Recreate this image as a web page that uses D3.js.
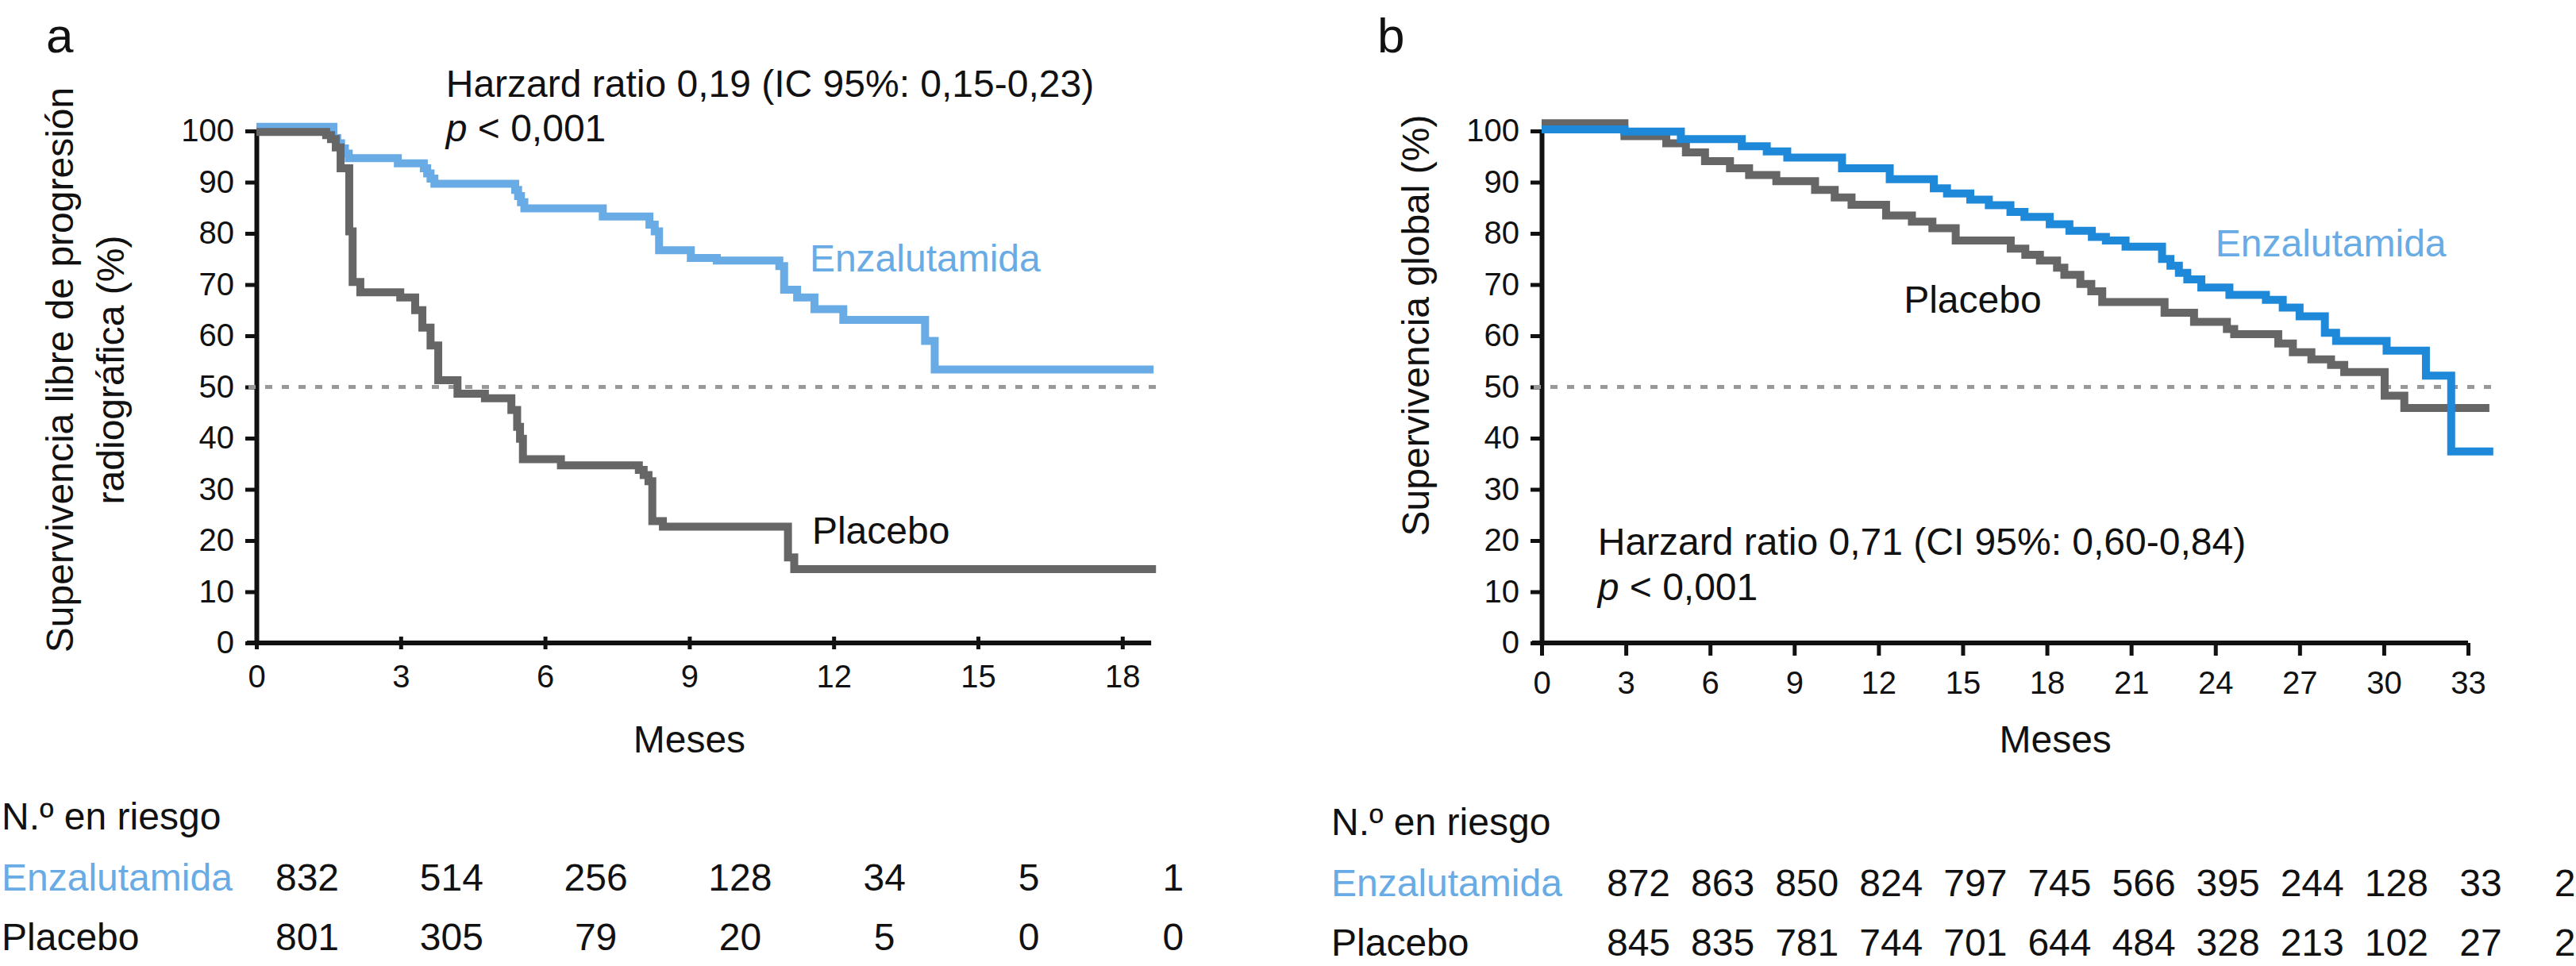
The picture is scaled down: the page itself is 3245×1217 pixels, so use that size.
<!DOCTYPE html>
<html>
<head>
<meta charset="utf-8">
<script src="https://cdn.jsdelivr.net/npm/d3@7"></script>
<style>
  body { margin: 0; background: #fff; }
  text { font-family: "Liberation Sans", Arial, Helvetica, sans-serif; fill: #111; }
</style>
</head>
<body>
<svg id="chart" width="3245" height="1217"></svg>
<script>
// ---- data ----
var pctTicks = [0, 10, 20, 30, 40, 50, 60, 70, 80, 90, 100];
var monthTicksA = [0, 3, 6, 9, 12, 15, 18];
var monthTicksB = [0, 3, 6, 9, 12, 15, 18, 21, 24, 27, 30, 33];

// [month, % after that month] (step after)
var enzA = [[0,100.8],[1.6,98.6],[1.68,97.6],[1.76,96.6],[1.84,95.6],[1.92,94.7],[2.94,93.7],
  [3.48,92.7],[3.55,91.7],[3.62,90.7],[3.7,89.7],[5.38,88.5],[5.44,87.3],[5.5,86.1],[5.57,84.9],
  [7.2,83.3],[8.17,81.7],[8.28,80.4],[8.37,76.7],[9.03,75.2],[9.57,74.7],[10.87,73.6],[10.97,69],
  [11.24,67.5],[11.6,65.2],[12.2,63.1],[13.9,59],[14.1,53.4],[18.65,53.4]];
var plaA = [[0,99.8],[1.45,99.2],[1.55,98.4],[1.65,96.8],[1.75,92.7],[1.93,80.4],[2.0,70.5],[2.16,68.5],
  [2.99,67.5],[3.3,65],[3.45,61.6],[3.62,58.1],[3.78,51.3],[4.18,48.7],[4.75,47.8],[5.3,45.5],
  [5.42,42.2],[5.48,39.9],[5.54,35.9],[6.33,34.7],[7.95,33.8],[8.05,32.8],[8.15,31.6],[8.23,23.8],
  [8.45,22.7],[11.05,16.7],[11.18,14.4],[18.7,14.4]];

var enzB = [[0,100.3],[2.95,99.9],[4.96,98.4],[7.13,97],[8.02,96],[8.75,94.8],[10.7,92.7],[12.4,90.6],
  [13.97,88.8],[14.44,87.8],[15.27,86.6],[15.93,85.5],[16.7,84.2],[17.2,83.2],[18.1,81.8],[18.8,80.5],
  [19.6,79.3],[20.1,78.6],[20.8,77.4],[22.1,75],[22.4,73.7],[22.7,72.3],[23.0,71],[23.5,69.4],
  [24.5,68],[25.8,67],[26.4,65.5],[27.0,63.8],[27.9,60.6],[28.3,59],[30.1,57.1],[31.5,52.2],
  [32.4,37.4],[33.9,37.4]];
var plaB = [[0,101.5],[2.95,99],[4.44,97.6],[5.14,95.8],[5.82,94.1],[6.71,92.7],[7.39,91.4],[8.36,90.2],
  [9.74,88.5],[10.44,87],[11.04,85.6],[12.27,83.5],[13.19,82.3],[13.92,81],[14.75,78.6],[16.71,77],
  [17.23,75.8],[17.75,74.7],[18.36,73.3],[18.62,71.9],[19.19,70.1],[19.58,68.7],[19.97,66.6],
  [22.19,64.5],[23.24,62.7],[24.41,61.3],[24.67,60.3],[26.24,58.5],[26.76,56.8],[27.42,55.4],
  [28.12,54.3],[28.59,52.9],[30.03,48.3],[30.73,45.9],[33.76,45.9]];

var riskEnzA = [832, 514, 256, 128, 34, 5, 1];
var riskPlaA = [801, 305, 79, 20, 5, 0, 0];
var riskEnzB = [872, 863, 850, 824, 797, 745, 566, 395, 244, 128, 33, 2];
var riskPlaB = [845, 835, 781, 744, 701, 644, 484, 328, 213, 102, 27, 2];

var lightBlue = "#69abe4", darkBlue = "#1f89d9", grey = "#666666", dashGrey = "#999999";

var svg = d3.select("#chart");
svg.append("rect").attr("width", 3245).attr("height", 1217).attr("fill", "#fff");

// scales
var y = d3.scaleLinear().domain([0, 100]).range([810, 165]);
var xA = d3.scaleLinear().domain([0, 18.6]).range([323, 323 + 18.6 * 60.6]);
var xB = d3.scaleLinear().domain([0, 33]).range([1942, 3109]);

function styleAxis(g, fontSize) {
  g.select(".domain").attr("stroke", "#111").attr("stroke-width", 6);
  g.selectAll(".tick line").attr("stroke", "#111").attr("stroke-width", 5);
  g.selectAll(".tick text").attr("font-size", fontSize).attr("fill", "#111")
    .attr("font-family", '"Liberation Sans", Arial, sans-serif');
}

function drawPanel(x, xTicks, xInner, curves, dashEnd) {
  // y axis
  var gy = svg.append("g").attr("transform", "translate(" + x(0) + ",0)")
    .call(d3.axisLeft(y).tickValues(pctTicks).tickSize(14).tickSizeOuter(0).tickPadding(14));
  styleAxis(gy, 40);

  // x axis
  var gx = svg.append("g").attr("transform", "translate(0," + y(0) + ")")
    .call(d3.axisBottom(x).tickValues(xTicks).tickSize(xInner ? 8 : 16).tickSizeOuter(0).tickPadding(20));
  styleAxis(gx, 40);
  if (xInner) gx.selectAll(".tick line").attr("y1", -8);
  gx.select(".domain").attr("d", "M" + (x(0) - 12) + ",0H" + x.range()[1]);

  // 50% reference
  svg.append("line")
    .attr("x1", x(0) - 10).attr("x2", x(dashEnd))
    .attr("y1", y(50)).attr("y2", y(50))
    .attr("stroke", dashGrey).attr("stroke-width", 5).attr("stroke-dasharray", "9,12");

  var line = d3.line().curve(d3.curveStepAfter)
    .x(function(d) { return x(d[0]); })
    .y(function(d) { return y(d[1]); });

  curves.forEach(function(c) {
    svg.append("path").datum(c.data)
      .attr("d", line)
      .attr("fill", "none")
      .attr("stroke", c.color)
      .attr("stroke-width", 10)
      .attr("stroke-linejoin", "miter");
  });
}

drawPanel(xA, monthTicksA, true,
  [{data: enzA, color: lightBlue}, {data: plaA, color: grey}], 18.7);
drawPanel(xB, monthTicksB, false,
  [{data: plaB, color: grey}, {data: enzB, color: darkBlue}], 33.9);

function label(txt, px, py, opts) {
  opts = opts || {};
  var t = svg.append("text").attr("x", px).attr("y", py)
    .attr("font-size", opts.size || 48)
    .attr("text-anchor", opts.anchor || "start");
  if (opts.color) t.style("fill", opts.color);
  if (opts.rotate) t.attr("transform", "rotate(-90," + px + "," + py + ")");
  t.text(txt);
  return t;
}
function pLine(px, py) {
  var t = svg.append("text").attr("x", px).attr("y", py).attr("font-size", 48);
  t.append("tspan").attr("font-style", "italic").text("p");
  t.append("tspan").text(" < 0,001");
}

// panel letters
label("a", 58, 66, {size: 62});
label("b", 1735, 66, {size: 62});

// panel a texts
label("Harzard ratio 0,19 (IC 95%: 0,15-0,23)", xA(3.94), 122);
pLine(xA(3.94), 178);
label("Enzalutamida", xA(11.5), y(72.6), {color: lightBlue});
label("Placebo", xA(11.55), y(19.4));
label("Supervivencia libre de progresión", 92, 466, {rotate: true, anchor: "middle"});
label("radiográfica (%)", 156, 466, {rotate: true, anchor: "middle"});
label("Meses", xA(9), 948, {anchor: "middle"});

// panel b texts
label("Enzalutamida", xB(24), y(75.5), {color: lightBlue});
label("Placebo", xB(12.9), y(64.5));
label("Harzard ratio 0,71 (CI 95%: 0,60-0,84)", xB(2), y(17.2));
pLine(xB(2), y(8.4));
label("Supervivencia global (%)", 1800, 410, {rotate: true, anchor: "middle"});
label("Meses", xB(18.3), 948, {anchor: "middle"});

// numbers at risk
function riskTable(x, ticks, enz, pla, left, yTop, offset) {
  label("N.º en riesgo", left, yTop);
  label("Enzalutamida", left, yTop + 77, {color: lightBlue});
  label("Placebo", left, yTop + 152);
  ticks.forEach(function(t, i) {
    label(enz[i], x(t) + offset, yTop + 77, {anchor: "middle"});
    label(pla[i], x(t) + offset, yTop + 152, {anchor: "middle"});
  });
}
riskTable(xA, monthTicksA, riskEnzA, riskPlaA, 2, 1045, 64);
riskTable(xB, monthTicksB, riskEnzB, riskPlaB, 1677, 1052, 122);
</script>
</body>
</html>
